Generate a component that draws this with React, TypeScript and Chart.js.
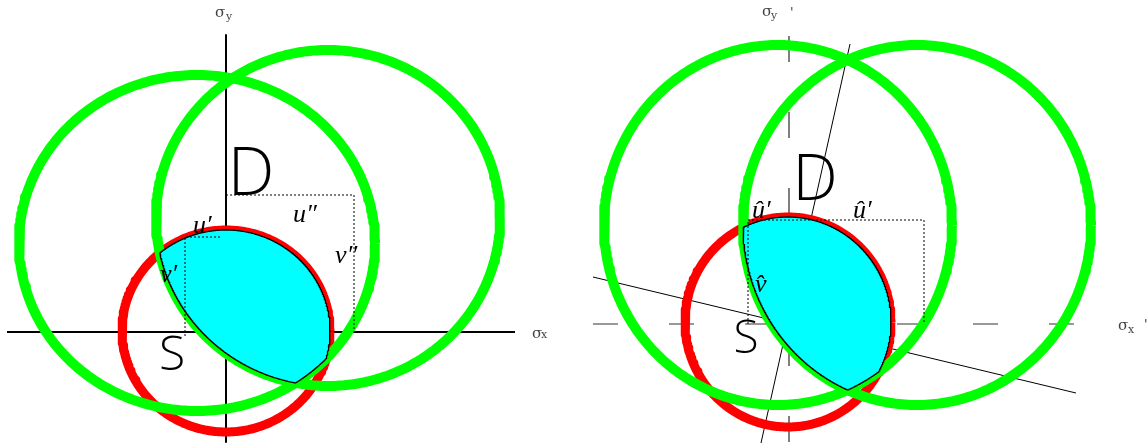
import React, { useEffect, useRef } from "react";
import { Chart, registerables } from "chart.js";
Chart.register(...registerables);

// ---------- Left panel: stress plane (σx, σy), origin at axis crossing ----------
const L_X_RANGE = [-226, 348];
const L_Y_RANGE = [-115, 332];
const L_AXIS_H = [[-219, 0], [289, 0]];
const L_AXIS_V = [[0, 297], [0, -110]];
// ellipses: [cx, cy, rx, ry]
const L_RED = [0, 1, 104, 101];
const L_GREEN_A = [-29, 89, 178, 168];
const L_GREEN_B = [102, 114, 172, 168];
const L_DOT_OUTER = [[0, 137], [128, 137], [128, -3]];
const L_DOT_INNER = [[-6, 95], [-41, 95], [-41, -5]];

// ---------- Right panel: rotated frame (σx', σy') ----------
const R_X_RANGE = [-215, 359];
const R_Y_RANGE = [-123, 324];
const R_AXIS_H = [[-196, 0], [288, 0]];
const R_AXIS_V = [[0, 288], [0, -119]];
const R_ROT_X = [[-196, 47], [287, -69]];
const R_ROT_Y = [[61, 280], [-28, -119]];
const R_RED = [-1, 2, 103, 105];
const R_GREEN_C = [-11, 99, 174, 180];
const R_GREEN_D = [128, 99, 174, 180];
const R_DOT_OUTER = [[-41, 0], [-41, 104], [135, 104], [135, 0]];

const LEFT_LABELS = [
  { text: "D", x: 25, y: 137, font: '300 66px "Open Sans"', align: "center", color: "#000" },
  { text: "S", x: -54, y: -38, font: '300 48px "Open Sans"', align: "center", color: "#000" },
  { text: "u\u2032", x: -33, y: 99, font: 'italic 26px "Liberation Serif"', align: "left", color: "#000" },
  { text: "u\u2033", x: 67, y: 110, font: 'italic 26px "Liberation Serif"', align: "left", color: "#000" },
  { text: "v\u2033", x: 109, y: 69, font: 'italic 26px "Liberation Serif"', align: "left", color: "#000" },
  { text: "v\u2032", x: -66, y: 50, font: 'italic 26px "Liberation Serif"', align: "left", color: "#000" },
  { text: "\u03c3", x: -11, y: 315, font: '15px "DejaVu Serif"', align: "left", color: "#444" },
  { text: "y", x: 0, y: 312, font: '11px "DejaVu Serif"', align: "left", color: "#444" },
  { text: "\u03c3", x: 306, y: -6, font: '15px "DejaVu Serif"', align: "left", color: "#444" },
  { text: "x", x: 315, y: -6, font: '11px "DejaVu Serif"', align: "left", color: "#444" },
];

const RIGHT_LABELS = [
  { text: "D", x: 26, y: 124, font: '300 64px "Open Sans"', align: "center", color: "#000" },
  { text: "S", x: -43, y: -29, font: '300 46px "Open Sans"', align: "center", color: "#000" },
  { text: "\u00fb\u2032", x: -37, y: 106, font: 'italic 26px "Liberation Serif"', align: "left", color: "#000" },
  { text: "\u00fb\u2032", x: 64, y: 106, font: 'italic 26px "Liberation Serif"', align: "left", color: "#000" },
  { text: "v\u0302", x: -34, y: 32, font: 'italic 26px "Liberation Serif"', align: "left", color: "#000" },
  { text: "\u03c3", x: -27, y: 308, font: '15px "DejaVu Serif"', align: "left", color: "#444" },
  { text: "y", x: -18, y: 305, font: '11px "DejaVu Serif"', align: "left", color: "#444" },
  { text: "'", x: 1, y: 308, font: '13px "DejaVu Sans"', align: "left", color: "#444" },
  { text: "\u03c3", x: 329, y: -6, font: '15px "DejaVu Serif"', align: "left", color: "#444" },
  { text: "x", x: 339, y: -9, font: '11px "DejaVu Serif"', align: "left", color: "#444" },
  { text: "'", x: 355, y: -4, font: '13px "DejaVu Sans"', align: "left", color: "#444" },
];

type P = { x: number; y: number };

function ellipsePts(e: number[], n = 360): P[] {
  const [cx, cy, rx, ry] = e;
  const out: P[] = [];
  for (let i = 0; i <= n; i++) {
    const t = (2 * Math.PI * i) / n;
    out.push({ x: cx + rx * Math.cos(t), y: cy + ry * Math.sin(t) });
  }
  return out;
}

function inside(e: number[], p: P) {
  const [cx, cy, rx, ry] = e;
  const a = (p.x - cx) / rx;
  const b = (p.y - cy) / ry;
  return a * a + b * b <= 1 + 1e-9;
}

function region(ells: number[][]): P[] {
  let pts: P[] = [];
  ells.forEach((e, i) => {
    ellipsePts(e, 1440).forEach((p) => {
      if (ells.every((o, j) => j === i || inside(o, p))) pts.push(p);
    });
  });
  const cx = pts.reduce((s, p) => s + p.x, 0) / pts.length;
  const cy = pts.reduce((s, p) => s + p.y, 0) / pts.length;
  pts.sort((a, b) => Math.atan2(a.y - cy, a.x - cx) - Math.atan2(b.y - cy, b.x - cx));
  pts.push(pts[0]);
  return pts;
}

const toPts = (arr: number[][]): P[] => arr.map(([x, y]) => ({ x, y }));

function line(data: P[], color: string, width: number, order: number, dash: number[] = []) {
  return {
    data,
    showLine: true,
    borderColor: color,
    borderWidth: width,
    borderDash: dash,
    pointRadius: 0,
    fill: false,
    tension: 0,
    order,
    borderCapStyle: "butt",
    borderJoinStyle: "round",
  };
}

function labelPlugin(items: any[]) {
  return {
    id: "textLabels",
    afterDatasetsDraw(chart: any) {
      const { ctx, scales } = chart;
      for (const l of items) {
        ctx.save();
        ctx.font = l.font;
        ctx.fillStyle = l.color;
        ctx.textAlign = l.align;
        ctx.textBaseline = "alphabetic";
        ctx.fillText(l.text, scales.x.getPixelForValue(l.x), scales.y.getPixelForValue(l.y));
        ctx.restore();
      }
    },
  };
}

function makeChart(canvas: HTMLCanvasElement, datasets: any[], xr: number[], yr: number[], labels: any[]) {
  return new Chart(canvas, {
    type: "scatter",
    data: { datasets },
    options: {
      responsive: false,
      maintainAspectRatio: false,
      animation: false,
      events: [],
      layout: { padding: 0 },
      scales: {
        x: { type: "linear", min: xr[0], max: xr[1], display: false },
        y: { type: "linear", min: yr[0], max: yr[1], display: false },
      },
      plugins: { legend: { display: false }, tooltip: { enabled: false } },
    },
    plugins: [labelPlugin(labels)],
  } as any);
}

export default function App() {
  const leftRef = useRef<HTMLCanvasElement>(null);
  const rightRef = useRef<HTMLCanvasElement>(null);

  useEffect(() => {
    const cyanL = {
      ...line(region([L_RED, L_GREEN_A, L_GREEN_B]), "#000", 1.3, 1),
      fill: "shape",
      backgroundColor: "#00ffff",
    };
    const left = makeChart(
      leftRef.current!,
      [
        line(toPts(L_DOT_OUTER), "#000", 1, 0, [2, 2]),
        line(toPts(L_DOT_INNER), "#000", 1, 0, [2, 2]),
        cyanL,
        line(ellipsePts(L_GREEN_A), "#00ff00", 10, 2),
        line(ellipsePts(L_GREEN_B), "#00ff00", 10, 2),
        line(ellipsePts(L_RED), "#ff0000", 9, 3),
        line(toPts(L_AXIS_H), "#000", 2, 4),
        line(toPts(L_AXIS_V), "#000", 2, 4),
      ],
      L_X_RANGE,
      L_Y_RANGE,
      LEFT_LABELS
    );

    const cyanR = {
      ...line(region([R_RED, R_GREEN_C, R_GREEN_D]), "#000", 1.3, 1),
      fill: "shape",
      backgroundColor: "#00ffff",
    };
    const right = makeChart(
      rightRef.current!,
      [
        line(toPts(R_DOT_OUTER), "#000", 1, 0, [2, 2]),
        cyanR,
        line(ellipsePts(R_GREEN_C), "#00ff00", 10, 2),
        line(ellipsePts(R_GREEN_D), "#00ff00", 10, 2),
        line(ellipsePts(R_RED), "#ff0000", 9, 3),
        line(toPts(R_AXIS_H), "#777", 1.5, 4, [25, 51]),
        line(toPts(R_AXIS_V), "#000", 1, 4, [26, 50]),
        line(toPts(R_ROT_X), "#000", 1, 4),
        line(toPts(R_ROT_Y), "#000", 1, 4),
      ],
      R_X_RANGE,
      R_Y_RANGE,
      RIGHT_LABELS
    );

    return () => {
      left.destroy();
      right.destroy();
    };
  }, []);

  return (
    <div style={{ position: "absolute", left: 0, top: 0, display: "flex", width: 1148, height: 447, background: "#fff" }}>
      <canvas ref={leftRef} width={574} height={447} style={{ display: "block" }} />
      <canvas ref={rightRef} width={574} height={447} style={{ display: "block" }} />
    </div>
  );
}
